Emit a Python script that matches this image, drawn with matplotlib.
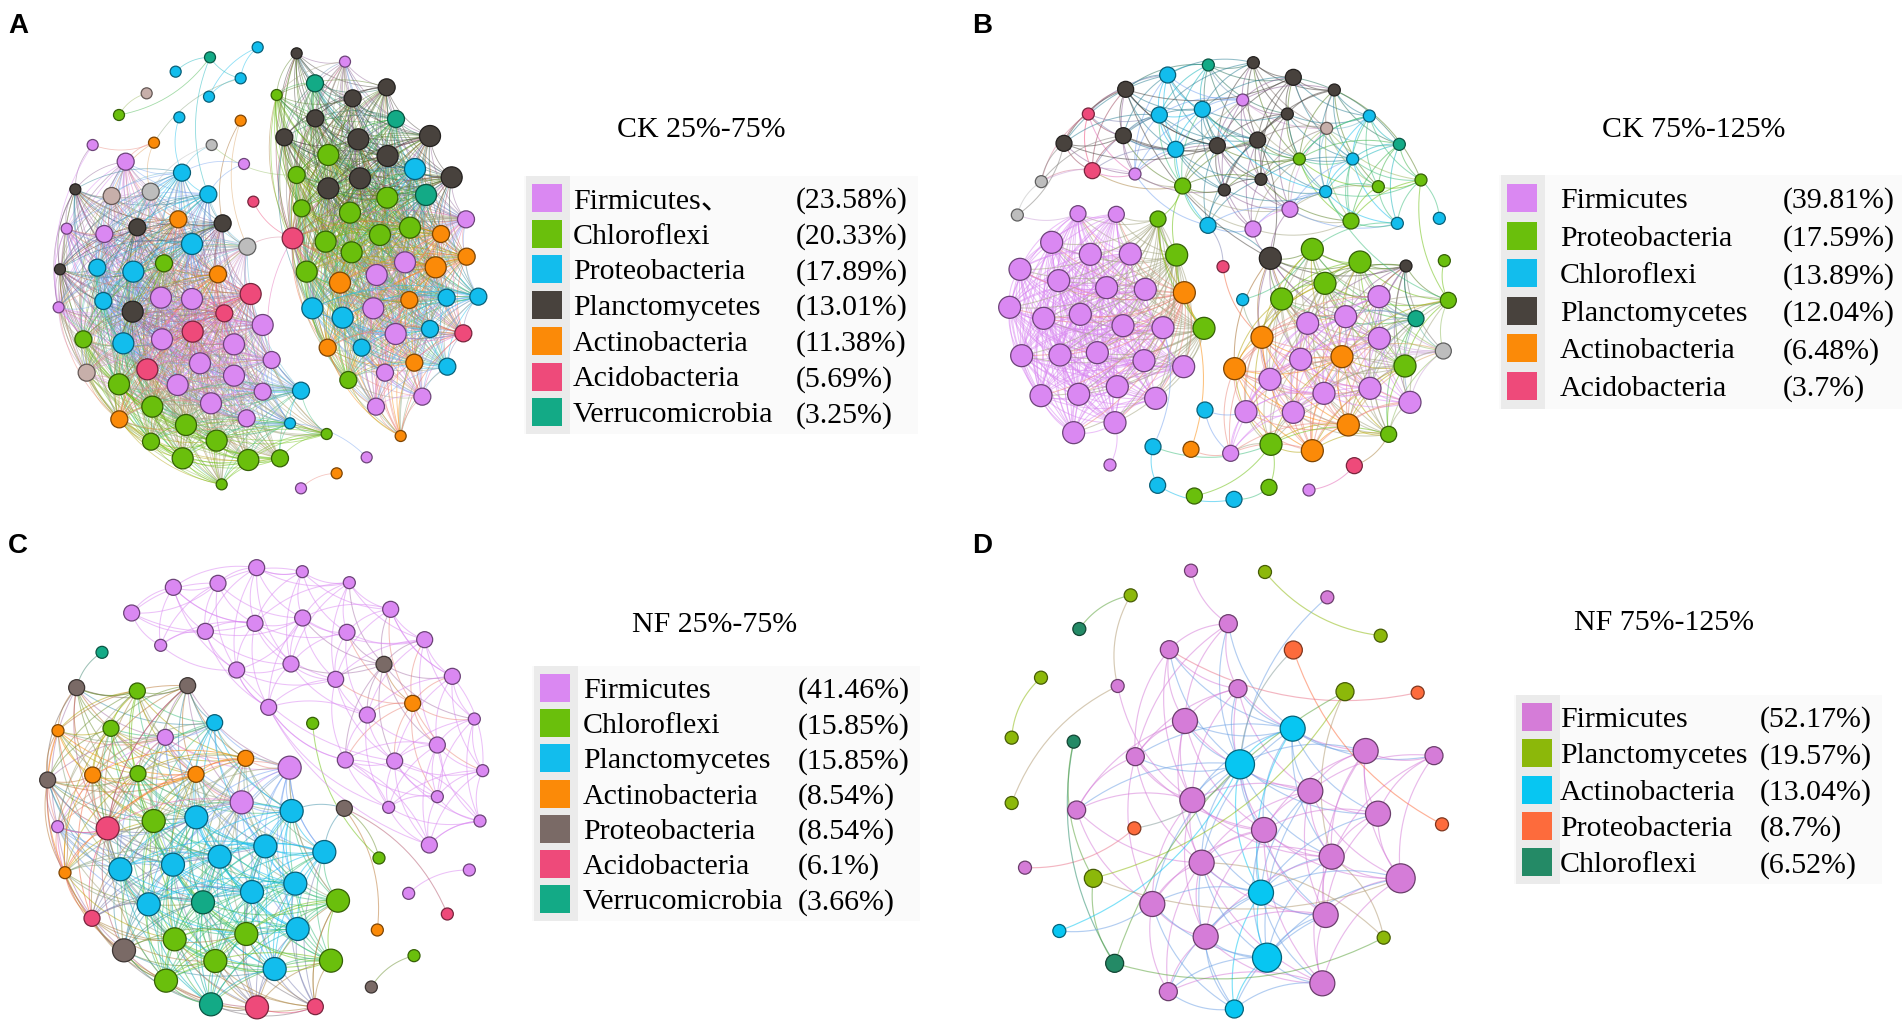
import numpy as np
import matplotlib.pyplot as plt
from matplotlib.collections import LineCollection
from matplotlib.patches import Rectangle
from matplotlib.colors import to_rgb

W, H = 1902, 1025

# colour keys used by the node tables
colors_ck = {'v': '#DA88F2', 'g': '#6ABF0C', 'c': '#12BDED', 'k': '#48423D',
             'o': '#FB8A08', 'p': '#EE4A7A', 't': '#13AA86', 'y': '#BDBDBD',
             'n': '#C7AFAA', 'b': '#7A6A66'}
colors_nf = {'v': '#D57CD8', 'l': '#8CB80A', 'c': '#07C6F2', 'r': '#FD6B3C',
             'd': '#248A66'}

# ---- legends -------------------------------------------------------------
title_a = 'CK 25%-75%'
names_a = ['Firmicutes\u3001', 'Chloroflexi', 'Proteobacteria', 'Planctomycetes',
           'Actinobacteria', 'Acidobacteria', 'Verrucomicrobia']
pcts_a = ['(23.58%)', '(20.33%)', '(17.89%)', '(13.01%)', '(11.38%)', '(5.69%)', '(3.25%)']
keys_a = ['v', 'g', 'c', 'k', 'o', 'p', 't']

title_b = 'CK 75%-125%'
names_b = ['Firmicutes', 'Proteobacteria', 'Chloroflexi', 'Planctomycetes',
           'Actinobacteria', 'Acidobacteria']
pcts_b = ['(39.81%)', '(17.59%)', '(13.89%)', '(12.04%)', '(6.48%)', '(3.7%)']
keys_b = ['v', 'g', 'c', 'k', 'o', 'p']

title_c = 'NF 25%-75%'
names_c = ['Firmicutes', 'Chloroflexi', 'Planctomycetes', 'Actinobacteria',
           'Proteobacteria', 'Acidobacteria', 'Verrucomicrobia']
pcts_c = ['(41.46%)', '(15.85%)', '(15.85%)', '(8.54%)', '(8.54%)', '(6.1%)', '(3.66%)']
keys_c = ['v', 'g', 'c', 'o', 'b', 'p', 't']

title_d = 'NF 75%-125%'
names_d = ['Firmicutes', 'Planctomycetes', 'Actinobacteria', 'Proteobacteria', 'Chloroflexi']
pcts_d = ['(52.17%)', '(19.57%)', '(13.04%)', '(8.7%)', '(6.52%)']
keys_d = ['v', 'l', 'c', 'r', 'd']

# ---- networks: (x, y, colour key, size class, module) in layout units --------
nodes_a = [
    (630, 172, 't', 1, '-'), (773, 142, 'c', 1, '-'), (527, 215, 'c', 1, '-'), (722, 235, 'c', 1, '-'),
    (627, 290, 'c', 1, '-'), (440, 280, 'n', 1, '-'), (357, 345, 'g', 1, '-'), (538, 352, 'c', 1, '-'),
    (722, 362, 'o', 1, '-'), (278, 435, 'v', 1, '-'), (462, 428, 'o', 1, '-'), (635, 435, 'y', 1, '-'),
    (732, 492, 'v', 1, '-'), (760, 605, 'p', 1, '-'),
    (377, 485, 'v', 2, 'L'), (546, 518, 'c', 2, 'L'), (226, 568, 'k', 1, 'L'), (335, 588, 'n', 2, 'L'),
    (452, 575, 'y', 2, 'L'), (625, 583, 'c', 2, 'L'), (200, 686, 'v', 1, 'L'), (313, 702, 'v', 2, 'L'),
    (412, 682, 'k', 2, 'L'), (535, 658, 'o', 2, 'L'), (668, 670, 'k', 2, 'L'), (742, 740, 'y', 2, 'L'),
    (576, 732, 'c', 3, 'L'), (180, 808, 'k', 1, 'L'), (292, 803, 'c', 2, 'L'), (400, 815, 'c', 3, 'L'),
    (492, 790, 'g', 2, 'L'), (654, 823, 'o', 2, 'L'), (176, 922, 'v', 1, 'L'), (310, 903, 'c', 2, 'L'),
    (398, 935, 'k', 3, 'L'), (483, 893, 'v', 3, 'L'), (576, 897, 'v', 3, 'L'), (752, 882, 'p', 3, 'L'),
    (673, 940, 'p', 2, 'L'), (788, 975, 'v', 3, 'L'), (250, 1018, 'g', 2, 'L'), (370, 1030, 'c', 3, 'L'),
    (486, 1018, 'v', 3, 'L'), (578, 995, 'p', 3, 'L'), (702, 1033, 'v', 3, 'L'), (600, 1090, 'v', 3, 'L'),
    (815, 1080, 'v', 2, 'L'), (260, 1118, 'n', 2, 'L'), (442, 1108, 'p', 3, 'L'), (357, 1153, 'g', 3, 'L'),
    (533, 1155, 'v', 3, 'L'), (702, 1127, 'v', 3, 'L'), (903, 1172, 'c', 2, 'L'), (788, 1175, 'v', 2, 'L'),
    (633, 1210, 'v', 3, 'L'), (457, 1220, 'g', 3, 'L'), (358, 1258, 'o', 2, 'L'), (740, 1255, 'v', 2, 'L'),
    (558, 1275, 'g', 3, 'L'), (870, 1270, 'c', 1, 'L'), (980, 1302, 'g', 1, 'L'), (453, 1325, 'g', 2, 'L'),
    (650, 1322, 'g', 3, 'L'), (548, 1375, 'g', 3, 'L'), (745, 1380, 'g', 3, 'L'), (840, 1375, 'g', 2, 'L'),
    (665, 1453, 'g', 1, 'L'),
    (1100, 1372, 'v', 1, '-'), (1010, 1420, 'o', 1, '-'), (903, 1465, 'v', 1, '-'),
    (890, 160, 'k', 1, 'R'), (1035, 185, 'v', 1, 'R'), (945, 250, 't', 2, 'R'), (1160, 262, 'k', 2, 'R'),
    (830, 285, 'g', 1, 'R'), (1058, 295, 'k', 2, 'R'), (1188, 357, 't', 2, 'R'), (946, 355, 'k', 2, 'R'),
    (853, 412, 'k', 2, 'R'), (1075, 418, 'k', 3, 'R'), (1290, 408, 'k', 3, 'R'), (985, 465, 'g', 3, 'R'),
    (1163, 468, 'k', 3, 'R'), (890, 525, 'g', 2, 'R'), (1245, 507, 'c', 3, 'R'), (1080, 535, 'k', 3, 'R'),
    (985, 565, 'k', 3, 'R'), (1355, 532, 'k', 3, 'R'), (1278, 585, 't', 3, 'R'), (1162, 593, 'g', 3, 'R'),
    (905, 625, 'g', 2, 'R'), (1050, 638, 'g', 3, 'R'), (1398, 658, 'v', 2, 'R'), (1230, 683, 'g', 3, 'R'),
    (1323, 702, 'o', 2, 'R'), (1140, 705, 'g', 3, 'R'), (878, 715, 'p', 3, 'R'), (977, 725, 'g', 3, 'R'),
    (1055, 757, 'g', 3, 'R'), (1215, 787, 'v', 3, 'R'), (1307, 802, 'o', 3, 'R'), (1400, 770, 'o', 2, 'R'),
    (1130, 825, 'v', 3, 'R'), (920, 815, 'g', 3, 'R'), (1020, 848, 'o', 3, 'R'), (1340, 893, 'c', 2, 'R'),
    (1435, 890, 'c', 2, 'R'), (1228, 900, 'o', 2, 'R'), (1120, 925, 'v', 3, 'R'), (937, 925, 'c', 3, 'R'),
    (1028, 953, 'c', 3, 'R'), (1187, 1002, 'v', 3, 'R'), (1290, 987, 'c', 2, 'R'), (1390, 1000, 'p', 2, 'R'),
    (983, 1043, 'o', 2, 'R'), (1085, 1043, 'c', 2, 'R'), (1243, 1088, 'o', 2, 'R'), (1342, 1100, 'c', 2, 'R'),
    (1155, 1118, 'v', 2, 'R'), (1045, 1140, 'g', 2, 'R'), (1267, 1190, 'v', 2, 'R'), (1128, 1220, 'v', 2, 'R'),
    (1202, 1308, 'o', 1, 'R'),
]
links_a = [
    ((630, 172), (527, 215)), ((630, 172), (722, 235)), ((773, 142), (722, 235)), ((773, 142), (627, 290)),
    ((722, 235), (627, 290)), ((722, 235), (462, 428)), ((278, 435), (462, 428)), ((440, 280), (357, 345)),
    ((357, 345), (630, 172)), ((538, 352), (546, 518)), ((630, 172), (625, 583)), ((278, 435), (226, 568)),
    ((278, 435), (176, 922)), ((722, 362), (668, 670)), ((635, 435), (546, 518)), ((635, 435), (890, 525)),
    ((732, 492), (625, 583)), ((760, 605), (878, 715)), ((1100, 1372), (870, 1270)), ((1010, 1420), (903, 1465)),
    ((462, 428), (377, 485)), ((462, 428), (452, 575)), ((462, 428), (335, 588)), ((635, 435), (452, 575)),
    ((732, 492), (546, 518)), ((878, 715), (742, 740)), ((878, 715), (815, 1080)), ((722, 362), (742, 740)),
]
reach_a = {'L': 560, 'R': 560}

nodes_b = [
    (745, 195, 't', 1, 'T'), (880, 188, 'k', 1, 'T'), (623, 225, 'c', 2, 'T'), (1000, 232, 'k', 2, 'T'),
    (497, 268, 'k', 2, 'T'), (1123, 270, 'k', 1, 'T'), (848, 300, 'v', 1, 'T'), (385, 342, 'p', 1, 'T'),
    (598, 345, 'c', 2, 'T'), (727, 328, 'c', 2, 'T'), (982, 342, 'k', 1, 'T'), (1100, 385, 'n', 1, 'T'),
    (1228, 348, 'c', 1, 'T'), (312, 430, 'k', 2, 'T'), (490, 407, 'k', 2, 'T'), (772, 437, 'k', 2, 'T'),
    (893, 420, 'k', 2, 'T'), (647, 448, 'c', 2, 'T'), (1318, 433, 't', 1, 'T'), (1018, 477, 'g', 1, 'T'),
    (1178, 477, 'c', 1, 'T'), (397, 512, 'p', 2, 'T'), (525, 522, 'v', 1, 'T'), (244, 545, 'y', 1, 'T'),
    (903, 538, 'k', 1, 'T'), (668, 558, 'g', 2, 'T'), (793, 570, 'k', 1, 'T'), (1255, 560, 'g', 1, 'T'),
    (1097, 575, 'c', 1, 'T'), (1383, 540, 'g', 1, 'T'), (172, 645, 'y', 1, '-'), (990, 628, 'v', 2, 'T'),
    (744, 676, 'c', 2, 'T'), (879, 687, 'v', 2, 'T'), (1173, 663, 'g', 2, 'T'), (1312, 670, 'c', 1, 'T'),
    (1438, 655, 'c', 1, '-'),
    (354, 641, 'v', 2, 'F'), (469, 643, 'v', 2, 'F'), (275, 727, 'v', 3, 'F'), (391, 763, 'v', 3, 'F'),
    (511, 762, 'v', 3, 'F'), (180, 808, 'v', 3, 'F'), (296, 842, 'v', 3, 'F'), (440, 863, 'v', 3, 'F'),
    (556, 868, 'v', 3, 'F'), (149, 922, 'v', 3, 'F'), (251, 955, 'v', 3, 'F'), (361, 943, 'v', 3, 'F'),
    (489, 977, 'v', 3, 'F'), (609, 983, 'v', 3, 'F'), (185, 1067, 'v', 3, 'F'), (300, 1065, 'v', 3, 'F'),
    (412, 1058, 'v', 3, 'F'), (552, 1082, 'v', 3, 'F'), (671, 1100, 'v', 3, 'F'), (243, 1187, 'v', 3, 'F'),
    (356, 1183, 'v', 3, 'F'), (472, 1160, 'v', 3, 'F'), (587, 1195, 'v', 3, 'F'), (341, 1298, 'v', 3, 'F'),
    (465, 1268, 'v', 3, 'F'), (594, 657, 'g', 2, 'F'), (650, 765, 'g', 3, 'F'), (673, 878, 'o', 3, 'F'),
    (732, 985, 'g', 3, 'F'), (789, 800, 'p', 1, '-'), (450, 1395, 'v', 1, '-'),
    (931, 775, 'k', 3, 'M'), (1057, 748, 'g', 3, 'M'), (1200, 786, 'g', 3, 'M'), (1338, 798, 'k', 1, 'M'),
    (1453, 782, 'g', 1, '-'), (848, 899, 'c', 1, '-'), (1095, 850, 'g', 3, 'M'), (965, 897, 'g', 3, 'M'),
    (1257, 890, 'v', 3, 'M'), (1465, 901, 'g', 2, 'M'), (1368, 956, 't', 2, 'M'), (1043, 970, 'v', 3, 'M'),
    (1157, 950, 'v', 3, 'M'), (906, 1012, 'o', 3, 'M'), (1258, 1015, 'v', 3, 'M'), (1450, 1053, 'y', 2, 'M'),
    (824, 1106, 'o', 3, 'M'), (1022, 1078, 'v', 3, 'M'), (1146, 1070, 'o', 3, 'M'), (1335, 1098, 'g', 3, 'M'),
    (930, 1138, 'v', 3, 'M'), (1092, 1180, 'v', 3, 'M'), (1230, 1165, 'v', 3, 'M'), (1350, 1207, 'v', 3, 'M'),
    (858, 1235, 'v', 3, 'M'), (1000, 1237, 'v', 3, 'M'), (1165, 1275, 'o', 3, 'M'), (1286, 1303, 'g', 2, 'M'),
    (933, 1333, 'g', 3, 'M'), (1057, 1352, 'o', 3, 'M'), (812, 1360, 'v', 2, 'M'),
    (735, 1230, 'c', 2, '-'), (579, 1340, 'c', 2, '-'), (693, 1348, 'o', 2, '-'), (1183, 1397, 'p', 2, '-'),
    (593, 1456, 'c', 2, '-'), (703, 1488, 'g', 2, '-'), (822, 1498, 'c', 2, '-'), (927, 1462, 'g', 2, '-'),
    (1047, 1470, 'v', 1, '-'),
]
links_b = [
    ((735, 1230), (858, 1235)), ((579, 1340), (609, 983)), ((579, 1340), (593, 1456)), ((593, 1456), (822, 1498)),
    ((703, 1488), (933, 1333)), ((822, 1498), (927, 1462)), ((927, 1462), (933, 1333)), ((693, 1348), (673, 878)),
    ((1183, 1397), (1286, 1303)), ((1047, 1470), (1183, 1397)), ((579, 1340), (933, 1333)), ((450, 1395), (465, 1268)),
    ((789, 800), (906, 1012)), ((789, 800), (744, 676)), ((244, 545), (172, 645)), ((172, 645), (354, 641)),
    ((172, 645), (312, 430)), ((931, 775), (893, 420)), ((931, 775), (744, 676)), ((1453, 782), (1465, 901)),
    ((1097, 575), (1465, 901)), ((497, 268), (931, 775)), ((1312, 670), (1057, 748)), ((1438, 655), (1383, 540)),
    ((623, 225), (312, 430)), ((848, 899), (1057, 748)), ((848, 899), (906, 1012)), ((735, 1230), (812, 1360)),
    ((693, 1348), (812, 1360)), ((1383, 540), (1465, 901)), ((1338, 798), (1368, 956)), ((497, 268), (1000, 232)),
    ((668, 558), (650, 765)), ((594, 657), (668, 558)), ((990, 628), (931, 775)), ((879, 687), (931, 775)),
    ((312, 430), (772, 437)), ((497, 268), (772, 437)), ((623, 225), (893, 420)), ((490, 407), (893, 420)),
    ((1228, 348), (1018, 477)), ((1383, 540), (1123, 270)), ((1318, 433), (1000, 232)), ((727, 328), (1097, 575)),
]
reach_b = {'T': 330, 'F': 560, 'M': 420}

nodes_c = [
    (770, 158, 'v', 2, 'U'), (907, 170, 'v', 1, 'U'), (1048, 203, 'v', 1, 'U'), (520, 217, 'v', 2, 'U'),
    (654, 205, 'v', 2, 'U'), (395, 294, 'v', 2, 'U'), (765, 325, 'v', 2, 'U'), (616, 349, 'v', 2, 'U'),
    (482, 391, 'v', 1, 'U'), (710, 465, 'v', 2, 'U'), (1172, 283, 'v', 2, 'U'), (908, 309, 'v', 2, 'U'),
    (1041, 352, 'v', 2, 'U'), (1274, 374, 'v', 2, 'U'), (873, 447, 'v', 2, 'U'), (1152, 448, 'b', 2, 'U'),
    (1007, 493, 'v', 2, 'U'), (1357, 484, 'v', 2, 'U'), (1238, 565, 'o', 2, 'U'), (1102, 600, 'v', 2, 'U'),
    (806, 577, 'v', 2, 'U'), (1423, 612, 'v', 1, 'U'), (1312, 690, 'v', 2, 'U'), (1036, 735, 'v', 2, 'U'),
    (1184, 738, 'v', 2, 'U'), (1448, 767, 'v', 1, 'U'), (1312, 845, 'v', 1, 'U'), (1166, 877, 'v', 1, 'U'),
    (1440, 918, 'v', 1, 'U'), (1288, 990, 'v', 2, 'U'), (1408, 1065, 'v', 1, '-'), (1226, 1135, 'v', 1, '-'),
    (1342, 1197, 'p', 1, '-'), (1132, 1245, 'o', 1, '-'), (1242, 1322, 'g', 1, '-'), (1114, 1416, 'b', 1, '-'),
    (1137, 1029, 'g', 1, '-'), (1033, 880, 'b', 2, '-'), (938, 625, 'g', 1, '-'), (306, 412, 't', 1, '-'),
    (230, 518, 'b', 2, 'K'), (412, 528, 'g', 2, 'K'), (563, 512, 'b', 2, 'K'), (174, 647, 'o', 1, 'K'),
    (333, 640, 'g', 2, 'K'), (496, 667, 'v', 2, 'K'), (644, 623, 'c', 2, 'K'), (737, 730, 'o', 2, 'K'),
    (869, 758, 'v', 3, 'K'), (143, 795, 'b', 2, 'K'), (278, 780, 'o', 2, 'K'), (414, 776, 'g', 2, 'K'),
    (588, 778, 'o', 2, 'K'), (725, 862, 'v', 3, 'K'), (875, 888, 'c', 3, 'K'), (173, 935, 'v', 1, 'K'),
    (323, 940, 'p', 3, 'K'), (461, 918, 'g', 3, 'K'), (589, 907, 'c', 3, 'K'), (796, 994, 'c', 3, 'K'),
    (973, 1011, 'c', 3, 'K'), (659, 1025, 'c', 3, 'K'), (519, 1049, 'c', 3, 'K'), (361, 1063, 'c', 3, 'K'),
    (195, 1073, 'o', 1, 'K'), (886, 1106, 'c', 3, 'K'), (756, 1131, 'c', 3, 'K'), (609, 1162, 't', 3, 'K'),
    (446, 1168, 'c', 3, 'K'), (1014, 1157, 'g', 3, 'K'), (276, 1210, 'p', 2, 'K'), (893, 1242, 'c', 3, 'K'),
    (739, 1257, 'g', 3, 'K'), (524, 1273, 'g', 3, 'K'), (372, 1306, 'b', 3, 'K'), (646, 1338, 'g', 3, 'K'),
    (993, 1337, 'g', 3, 'K'), (824, 1362, 'c', 3, 'K'), (498, 1397, 'g', 3, 'K'), (633, 1468, 't', 3, 'K'),
    (771, 1477, 'p', 3, 'K'), (946, 1475, 'p', 2, 'K'),
]
links_c = [
    ((1408, 1065), (1226, 1135)), ((1342, 1197), (1033, 880)), ((1132, 1245), (1033, 880)),
    ((1242, 1322), (1114, 1416)), ((1137, 1029), (1033, 880)), ((938, 625), (1137, 1029)),
    ((1033, 880), (973, 1011)), ((1033, 880), (875, 888)), ((306, 412), (230, 518)), ((806, 577), (1036, 735)),
    ((806, 577), (1288, 990)), ((710, 465), (1184, 738)), ((1448, 767), (1357, 484)), ((1440, 918), (1184, 738)),
    ((1288, 990), (1036, 735)), ((1312, 845), (1312, 690)), ((1166, 877), (1036, 735)), ((1312, 845), (1036, 735)),
    ((1440, 918), (1288, 990)), ((806, 577), (1166, 877)), ((710, 465), (806, 577)), ((869, 758), (1014, 1157)),
    ((173, 935), (323, 940)), ((195, 1073), (143, 795)), ((563, 512), (323, 940)), ((230, 518), (412, 528)),
    ((869, 758), (973, 1011)), ((1014, 1157), (946, 1475)), ((395, 294), (654, 205)), ((395, 294), (765, 325)),
    ((520, 217), (765, 325)), ((770, 158), (907, 170)), ((908, 309), (1274, 374)), ((1172, 283), (1357, 484)),
]
reach_c = {'U': 320, 'K': 500}

nodes_d = [
    (693, 167, 'v', 1, '-'), (915, 171, 'l', 1, '-'), (512, 241, 'l', 1, '-'), (1102, 247, 'v', 1, '-'),
    (358, 342, 'd', 1, '-'), (805, 326, 'v', 2, 'K'), (1262, 362, 'l', 1, '-'), (628, 404, 'v', 2, 'K'),
    (1000, 405, 'r', 2, '-'), (243, 488, 'l', 1, '-'), (473, 513, 'v', 1, '-'), (834, 521, 'v', 2, 'K'),
    (1155, 530, 'l', 2, '-'), (1373, 533, 'r', 1, '-'), (675, 618, 'v', 3, 'K'), (998, 641, 'c', 3, 'K'),
    (155, 668, 'l', 1, '-'), (341, 680, 'd', 1, '-'), (1217, 708, 'v', 3, 'K'), (1422, 722, 'v', 2, 'K'),
    (526, 725, 'v', 2, 'K'), (840, 748, 'c', 4, 'K'), (1051, 828, 'v', 3, 'K'), (697, 855, 'v', 3, 'K'),
    (155, 864, 'l', 1, '-'), (350, 885, 'v', 2, 'K'), (1254, 896, 'v', 3, 'K'), (912, 945, 'v', 3, 'K'),
    (523, 940, 'r', 1, '-'), (1446, 928, 'r', 1, '-'), (1115, 1025, 'v', 3, 'K'), (725, 1043, 'v', 3, 'K'),
    (195, 1058, 'v', 1, '-'), (400, 1090, 'l', 2, '-'), (1322, 1090, 'v', 4, 'K'), (903, 1133, 'c', 3, 'K'),
    (577, 1167, 'v', 3, 'K'), (1097, 1200, 'v', 3, 'K'), (737, 1265, 'v', 3, 'K'), (1271, 1268, 'l', 1, '-'),
    (298, 1248, 'c', 1, '-'), (464, 1345, 'd', 2, '-'), (921, 1328, 'c', 4, 'K'), (1087, 1405, 'v', 3, 'K'),
    (625, 1430, 'v', 2, 'K'), (823, 1482, 'c', 2, 'K'),
]
links_d = [
    ((512, 241), (358, 342)), ((512, 241), (473, 513)), ((473, 513), (155, 864)), ((243, 488), (155, 668)),
    ((915, 171), (1262, 362)), ((693, 167), (805, 326)), ((1102, 247), (840, 748)), ((1000, 405), (1446, 928)),
    ((1000, 405), (840, 748)), ((628, 404), (1373, 533)), ((195, 1058), (523, 940)), ((523, 940), (840, 748)),
    ((341, 680), (464, 1345)), ((341, 680), (400, 1090)), ((400, 1090), (1155, 530)), ((400, 1090), (464, 1345)),
    ((1155, 530), (1115, 1025)), ((1155, 530), (464, 1345)), ((298, 1248), (840, 748)), ((298, 1248), (577, 1167)),
    ((464, 1345), (1271, 1268)), ((1271, 1268), (725, 1043)), ((1271, 1268), (1115, 1025)), ((473, 513), (697, 855)),
    ((400, 1090), (1322, 1090)),
]
reach_d = {'K': 520}


def arc(p, q, bend=0.2, n=18):
    p = np.asarray(p, float)
    q = np.asarray(q, float)
    d = q - p
    ctrl = (p + q) / 2 + bend * np.array([-d[1], d[0]])
    t = np.linspace(0, 1, n)[:, None]
    return (1 - t) ** 2 * p + 2 * (1 - t) * t * ctrl + t ** 2 * q


def draw_network(ax, nodes, links, reach, palette, diam, alpha, lw):
    xy = np.array([(n[0], n[1]) for n in nodes], float)
    cols = [np.array(to_rgb(palette[n[2]])) for n in nodes]
    pairs = []
    for i in range(len(nodes)):
        for j in range(i + 1, len(nodes)):
            m = nodes[i][4]
            if m != '-' and m == nodes[j][4] and np.hypot(*(xy[i] - xy[j])) < reach[m]:
                pairs.append((i, j))
    for p, q in links:
        i = int(np.argmin(np.hypot(xy[:, 0] - p[0], xy[:, 1] - p[1])))
        j = int(np.argmin(np.hypot(xy[:, 0] - q[0], xy[:, 1] - q[1])))
        pairs.append((i, j))
    segs = [arc(xy[i], xy[j]) for i, j in pairs]
    ecol = [tuple((cols[i] + cols[j]) / 2) + (alpha,) for i, j in pairs]
    ax.add_collection(LineCollection(segs, colors=ecol, linewidths=lw, zorder=1))
    order = np.argsort([n[3] for n in nodes], kind='stable')
    ax.scatter(xy[order, 0], xy[order, 1],
               s=[(diam[nodes[k][3]] * 0.72) ** 2 for k in order],
               c=[cols[k] for k in order],
               edgecolors=[cols[k] * 0.5 for k in order],
               linewidths=0.9, zorder=3)


fig = plt.figure(figsize=(W / 100, H / 100), dpi=100)
fig.patch.set_facecolor('white')

panels = [
    ((0, 0, 540, 510), nodes_a, links_a, reach_a, colors_ck, {1: 11, 2: 17, 3: 21}, 0.48, 0.6),
    ((960, 0, 520, 510), nodes_b, links_b, reach_b, colors_ck, {1: 12, 2: 16, 3: 22}, 0.52, 0.75),
    ((0, 515, 520, 510), nodes_c, links_c, reach_c, colors_ck, {1: 12, 2: 16, 3: 23}, 0.52, 0.75),
    ((960, 515, 520, 510), nodes_d, links_d, reach_d, colors_nf, {1: 13, 2: 18, 3: 25, 4: 29}, 0.52, 0.85),
]
for (x0, y0, w, h), nodes, links, reach, pal, diam, alpha, lw in panels:
    ax = fig.add_axes([x0 / W, 1 - (y0 + h) / H, w / W, h / H])
    draw_network(ax, nodes, links, reach, pal, diam, alpha, lw)
    ax.set_xlim(0, w * 3)
    ax.set_ylim(h * 3, 0)
    ax.axis('off')

# overlay in pixel units for letters, titles and legends
ov = fig.add_axes([0, 0, 1, 1])
ov.set_xlim(0, W)
ov.set_ylim(H, 0)
ov.set_facecolor('none')
ov.axis('off')

for letter, lx, ly in [('A', 8, 33), ('B', 972, 33), ('C', 8, 553), ('D', 972, 553)]:
    ov.text(lx, ly, letter, fontsize=20, fontweight='bold', family='Liberation Sans', va='baseline')

serif = ['Liberation Serif', 'Noto Sans CJK SC']
legends = [
    (title_a, names_a, pcts_a, keys_a, colors_ck, 701, 127, 532, 198, 35.7, 573, 796),
    (title_b, names_b, pcts_b, keys_b, colors_ck, 1694, 127, 1507, 198, 37.6, 1560, 1783),
    (title_c, names_c, pcts_c, keys_c, colors_ck, 715, 622, 540, 688, 35.2, 583, 798),
    (title_d, names_d, pcts_d, keys_d, colors_nf, 1664, 620, 1522, 717, 36.3, 1560, 1760),
]
fs = 21.5
for title, names, pcts, keys, pal, tx, ty, sx, ry, dy, nx, px in legends:
    ov.text(tx, ty + 10, title, fontsize=fs, family=serif, ha='center', va='baseline')
    n = len(names)
    top = ry - dy / 2 - 4
    bottom = ry + (n - 1) * dy + dy / 2 + 4
    ov.add_patch(Rectangle((sx - 8, top), px + 130 - sx, bottom - top, facecolor='#FAFAFA',
                           edgecolor='none', zorder=0))
    ov.add_patch(Rectangle((sx - 6, top), 44, bottom - top, facecolor='#EBEBEB',
                           edgecolor='none', zorder=1))
    for i in range(n):
        yy = ry + i * dy
        ov.add_patch(Rectangle((sx, yy - 14), 30, 28, facecolor=pal[keys[i]], edgecolor='none', zorder=2))
        ov.text(nx, yy + 10, names[i], fontsize=fs, family=serif, va='baseline', zorder=3)
        ov.text(px, yy + 10, pcts[i], fontsize=fs, family=serif, va='baseline', zorder=3)

fig.savefig('out.png', dpi=100, facecolor='white')
